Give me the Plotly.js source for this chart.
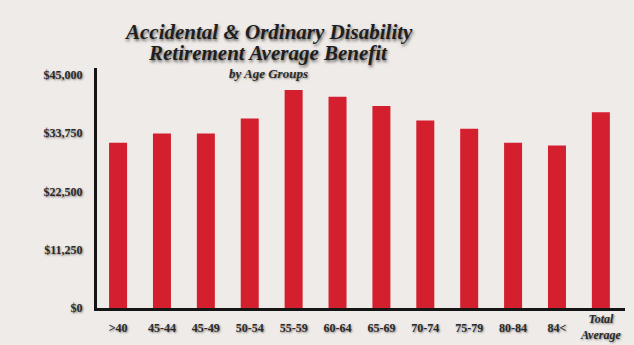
<!DOCTYPE html>
<html>
<head>
<meta charset="utf-8">
<script src="https://cdn.plot.ly/plotly-3.0.1.min.js"></script>
<style>html,body{margin:0;padding:0;background:#efebe8;}</style>
</head>
<body>
<div id="chart" style="width:634px;height:345px;"></div>
<script>
const categories = [">40", "45-44", "45-49", "50-54", "55-59", "60-64", "65-69", "70-74", "75-79", "80-84", "84<", "Total Average"];
const tickLabels = [">40", "45-44", "45-49", "50-54", "55-59", "60-64", "65-69", "70-74", "75-79", "80-84", "84<", "Total<br>Average"];
const benefit = [31900, 33700, 33700, 36600, 42100, 40800, 39000, 36200, 34600, 31900, 31400, 37800];
const yTicks = [0, 11250, 22500, 33750, 45000];
const yTickLabels = ["$0", "$11,250", "$22,500", "$33,750", "$45,000"];
const titleLines = ["Accidental &amp; Ordinary Disability", "Retirement Average Benefit"];
const subtitle = "by Age Groups";

const shadow = "1px 1px 2px rgba(60,60,60,0.6)";
const tickFont = {family: "Liberation Serif, serif", size: 12, color: "#2a2a2a", weight: "bold", shadow: shadow};
const titleFont = {family: "Liberation Serif, serif", size: 21, color: "#1e1e1e", style: "italic", weight: "bold", shadow: "1px 2px 3px rgba(40,40,40,0.7)"};

const trace = {
  type: "bar",
  x: categories,
  y: benefit,
  marker: {color: "#d41f2e", line: {width: 0}},
  hoverinfo: "x+y"
};

// last (two-line) category label is drawn as an annotation so it can sit a little higher
const lastIdx = categories.length - 1;
const axisText = tickLabels.map((t, i) => i === lastIdx ? "" : t);
const cx = (268 - 97) / 528;

const layout = {
  width: 634, height: 345,
  margin: {l: 97, r: 9, t: 68, b: 37},
  paper_bgcolor: "#efebe8",
  plot_bgcolor: "#efebe8",
  bargap: 0.59,
  showlegend: false,
  xaxis: {
    type: "category",
    range: [-0.48, 11.55],
    tickmode: "array",
    tickvals: categories,
    ticktext: axisText,
    showline: true, linecolor: "#151515", linewidth: 3,
    showgrid: false, zeroline: false, ticks: "",
    tickfont: tickFont,
    ticklabelstandoff: 7,
    tickangle: 0
  },
  yaxis: {
    range: [0, 46350],
    tickmode: "array",
    tickvals: yTicks,
    ticktext: yTickLabels,
    showline: true, linecolor: "#151515", linewidth: 3,
    showgrid: false, zeroline: false, ticks: "",
    tickfont: tickFont,
    ticklabelstandoff: 9
  },
  annotations: [
    {
      xref: "paper", yref: "paper", x: cx, y: (308 - 32) / 240,
      xanchor: "center", yanchor: "middle",
      text: titleLines[0], showarrow: false, font: titleFont
    },
    {
      xref: "paper", yref: "paper", x: cx, y: (308 - 53) / 240,
      xanchor: "center", yanchor: "middle",
      text: titleLines[1], showarrow: false, font: titleFont
    },
    {
      xref: "paper", yref: "paper", x: cx, y: (308 - 73) / 240,
      xanchor: "center", yanchor: "middle",
      text: subtitle,
      showarrow: false,
      font: {family: "Liberation Serif, serif", size: 13, color: "#2a2a2a", style: "italic", weight: "bold", shadow: shadow}
    },
    {
      xref: "x", yref: "paper", x: categories[lastIdx], y: (308 - 327) / 240,
      xanchor: "center", yanchor: "middle",
      text: tickLabels[lastIdx],
      showarrow: false,
      font: {family: "Liberation Serif, serif", size: 12, color: "#2a2a2a", style: "italic", weight: "bold", shadow: shadow}
    }
  ]
};

Plotly.newPlot("chart", [trace], layout, {displayModeBar: false, staticPlot: true});
</script>
</body>
</html>
